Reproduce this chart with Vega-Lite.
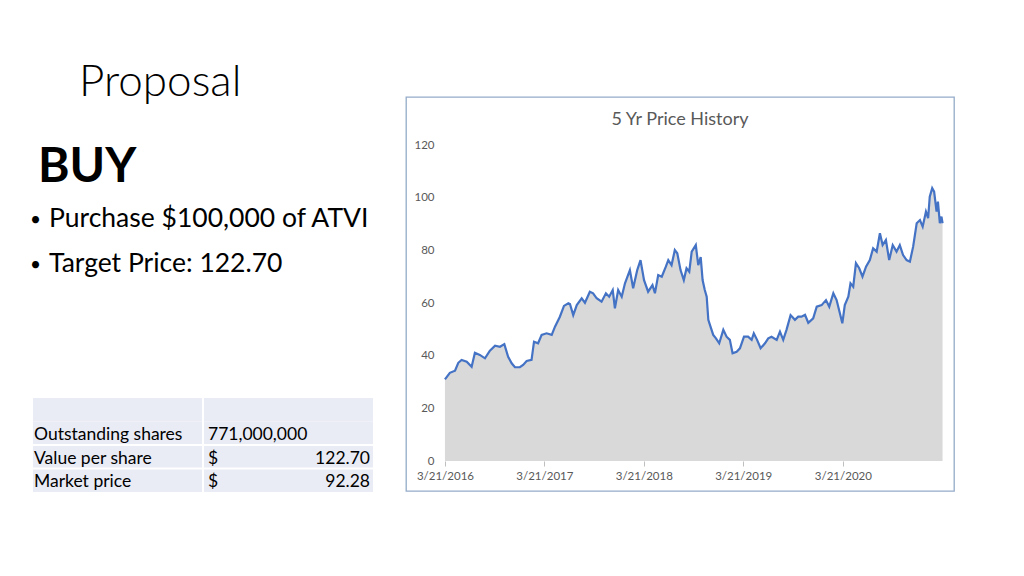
{
  "$schema": "https://vega.github.io/schema/vega-lite/v6.json",
  "background": "white",
  "padding": {"left": 30, "top": 61, "right": 5, "bottom": 5},
  "spacing": 31,
  "title": {"text": "Proposal", "anchor": "start", "frame": "group", "fontSize": 44, "fontWeight": 300, "color": "#000000", "baseline": "alphabetic", "offset": -44, "dx": 46},
  "config": {"font": "Lato", "view": {"stroke": null}},
  "hconcat": [
    {
      "spacing": 85,
      "vconcat": [
        {
          "width": 340,
          "height": 215,
          "data": {"values": [
            {"line": "BUY", "text": "BUY"},
            {"line": "b1", "text": "Purchase $100,000 of ATVI"},
            {"line": "b2", "text": "Target Price: 122.70"}
          ]},
          "encoding": {
            "x": {"datum": "c1", "type": "nominal", "scale": {"type": "band", "domain": ["c1", "c2"], "paddingInner": 0, "paddingOuter": 0}, "bandPosition": 0, "axis": null},
            "y": {"field": "line", "type": "nominal", "scale": {"type": "point", "domain": ["top", "BUY", "b1", "b2"], "padding": 0.889}, "axis": null}
          },
          "layer": [
            {"transform": [{"filter": "datum.line === 'BUY'"}], "mark": {"type": "text", "align": "left", "baseline": "alphabetic", "fontSize": 48, "fontWeight": "bold", "dx": 5, "color": "#000000"}, "encoding": {"text": {"field": "text"}}},
            {"transform": [{"filter": "datum.line !== 'BUY'"}], "mark": {"type": "text", "align": "left", "baseline": "alphabetic", "fontSize": 26.5, "dx": 16, "color": "#000000"}, "encoding": {"text": {"field": "text"}}},
            {"transform": [{"filter": "datum.line !== 'BUY'"}], "mark": {"type": "text", "align": "left", "baseline": "alphabetic", "fontSize": 19, "dx": -3, "dy": -1, "text": "•", "color": "#000000"}}
          ]
        },
        {
          "width": 340,
          "height": 94,
          "layer": [
            {
              "data": {"values": [
                {"row": "r0", "col": "c1"}, {"row": "r0", "col": "c2"},
                {"row": "r1", "col": "c1"}, {"row": "r1", "col": "c2"},
                {"row": "r2", "col": "c1"}, {"row": "r2", "col": "c2"},
                {"row": "r3", "col": "c1"}, {"row": "r3", "col": "c2"}
              ]},
              "mark": {"type": "rect", "color": "#e9ebf5"},
              "encoding": {
                "x": {"field": "col", "type": "nominal", "scale": {"type": "band", "domain": ["c1", "c2"], "paddingInner": 0, "paddingOuter": 0}, "axis": null},
                "y": {"field": "row", "type": "nominal", "scale": {"type": "band", "domain": ["r0", "r1", "r2", "r3"], "paddingInner": 0, "paddingOuter": 0}, "axis": null}
              }
            },
            {
              "data": {"values": [{"col": "c2"}]},
              "mark": {"type": "rule", "color": "#ffffff", "strokeWidth": 2},
              "encoding": {"x": {"field": "col", "type": "nominal", "bandPosition": 0}}
            },
            {
              "data": {"values": [{"row": "r2"}, {"row": "r3"}]},
              "mark": {"type": "rule", "color": "#ffffff", "strokeWidth": 2},
              "encoding": {"y": {"field": "row", "type": "nominal", "bandPosition": 0}}
            },
            {
              "data": {"values": [
                {"row": "r1", "label": "Outstanding shares", "left": "771,000,000", "right": ""},
                {"row": "r2", "label": "Value per share", "left": "$", "right": "122.70"},
                {"row": "r3", "label": "Market price", "left": "$", "right": "92.28"}
              ]},
              "layer": [
                {"mark": {"type": "text", "align": "left", "baseline": "alphabetic", "fontSize": 17.5, "dx": 1, "color": "#000000"},
                 "encoding": {"x": {"datum": "c1", "type": "nominal", "bandPosition": 0}, "y": {"field": "row", "type": "nominal", "bandPosition": 0.8}, "text": {"field": "label"}}},
                {"mark": {"type": "text", "align": "left", "baseline": "alphabetic", "fontSize": 17.5, "dx": 5, "color": "#000000"},
                 "encoding": {"x": {"datum": "c2", "type": "nominal", "bandPosition": 0}, "y": {"field": "row", "type": "nominal", "bandPosition": 0.8}, "text": {"field": "left"}}},
                {"mark": {"type": "text", "align": "right", "baseline": "alphabetic", "fontSize": 17.5, "dx": -3, "color": "#000000"},
                 "encoding": {"x": {"datum": "c2", "type": "nominal", "bandPosition": 1}, "y": {"field": "row", "type": "nominal", "bandPosition": 0.8}, "text": {"field": "right"}}}
              ]
            }
          ]
        }
      ]
    },
    {
      "width": 548,
      "height": 394,
      "view": {"stroke": "#94abc9", "strokeWidth": 1.3},
      "title": {"text": "5 Yr Price History", "fontSize": 18, "fontWeight": "normal", "color": "#595959", "anchor": "middle", "frame": "group", "offset": -46, "baseline": "alphabetic"},
      "data": {"values": [
        {"date": "2016-03-21", "price": 31.0}, {"date": "2016-04-08", "price": 33.5}, {"date": "2016-04-27", "price": 34.3},
        {"date": "2016-05-09", "price": 37.3}, {"date": "2016-05-21", "price": 38.4}, {"date": "2016-06-09", "price": 37.7},
        {"date": "2016-06-27", "price": 35.8}, {"date": "2016-07-09", "price": 41.1}, {"date": "2016-07-27", "price": 40.3},
        {"date": "2016-08-15", "price": 39.0}, {"date": "2016-09-02", "price": 41.9}, {"date": "2016-09-21", "price": 43.8},
        {"date": "2016-10-09", "price": 43.4}, {"date": "2016-10-25", "price": 44.4}, {"date": "2016-11-08", "price": 39.6},
        {"date": "2016-11-21", "price": 37.1}, {"date": "2016-12-03", "price": 35.6}, {"date": "2016-12-21", "price": 35.6},
        {"date": "2017-01-02", "price": 36.5}, {"date": "2017-01-15", "price": 38.0}, {"date": "2017-02-02", "price": 38.4},
        {"date": "2017-02-11", "price": 45.3}, {"date": "2017-02-26", "price": 44.7}, {"date": "2017-03-11", "price": 47.9},
        {"date": "2017-03-29", "price": 48.5}, {"date": "2017-04-17", "price": 47.9}, {"date": "2017-04-29", "price": 51.0},
        {"date": "2017-05-17", "price": 54.8}, {"date": "2017-06-01", "price": 58.9}, {"date": "2017-06-17", "price": 59.9},
        {"date": "2017-06-23", "price": 59.6}, {"date": "2017-07-05", "price": 55.4}, {"date": "2017-07-18", "price": 59.2},
        {"date": "2017-08-05", "price": 61.8}, {"date": "2017-08-17", "price": 60.1}, {"date": "2017-09-04", "price": 64.3},
        {"date": "2017-09-16", "price": 63.7}, {"date": "2017-09-29", "price": 61.8}, {"date": "2017-10-17", "price": 60.5},
        {"date": "2017-11-02", "price": 63.7}, {"date": "2017-11-14", "price": 62.4}, {"date": "2017-11-27", "price": 64.9},
        {"date": "2017-12-05", "price": 58.0}, {"date": "2017-12-17", "price": 64.9}, {"date": "2017-12-30", "price": 62.4},
        {"date": "2018-01-11", "price": 67.5}, {"date": "2018-01-29", "price": 72.5}, {"date": "2018-02-10", "price": 65.6},
        {"date": "2018-02-25", "price": 72.5}, {"date": "2018-03-09", "price": 76.3}, {"date": "2018-03-22", "price": 68.7},
        {"date": "2018-04-06", "price": 64.3}, {"date": "2018-04-22", "price": 66.8}, {"date": "2018-05-01", "price": 63.7},
        {"date": "2018-05-13", "price": 70.6}, {"date": "2018-05-26", "price": 70.0}, {"date": "2018-06-10", "price": 73.8},
        {"date": "2018-06-19", "price": 76.3}, {"date": "2018-07-01", "price": 74.4}, {"date": "2018-07-13", "price": 80.1},
        {"date": "2018-07-22", "price": 78.9}, {"date": "2018-08-03", "price": 72.5}, {"date": "2018-08-15", "price": 68.7},
        {"date": "2018-08-25", "price": 73.2}, {"date": "2018-09-04", "price": 71.9}, {"date": "2018-09-13", "price": 79.5},
        {"date": "2018-09-28", "price": 82.0}, {"date": "2018-10-07", "price": 74.4}, {"date": "2018-10-16", "price": 77.4},
        {"date": "2018-10-23", "price": 68.7}, {"date": "2018-10-31", "price": 64.9}, {"date": "2018-11-07", "price": 62.4},
        {"date": "2018-11-13", "price": 53.6}, {"date": "2018-11-21", "price": 51.0}, {"date": "2018-12-01", "price": 47.9},
        {"date": "2018-12-11", "price": 46.6}, {"date": "2018-12-23", "price": 44.7}, {"date": "2019-01-07", "price": 49.8},
        {"date": "2019-01-19", "price": 47.2}, {"date": "2019-01-31", "price": 46.0}, {"date": "2019-02-10", "price": 40.9},
        {"date": "2019-02-25", "price": 41.5}, {"date": "2019-03-09", "price": 42.8}, {"date": "2019-03-24", "price": 47.2},
        {"date": "2019-04-08", "price": 47.2}, {"date": "2019-04-21", "price": 46.0}, {"date": "2019-04-29", "price": 48.5},
        {"date": "2019-05-11", "price": 46.0}, {"date": "2019-05-24", "price": 42.8}, {"date": "2019-06-09", "price": 44.7},
        {"date": "2019-06-21", "price": 46.6}, {"date": "2019-07-03", "price": 47.2}, {"date": "2019-07-22", "price": 46.0},
        {"date": "2019-08-03", "price": 49.1}, {"date": "2019-08-15", "price": 46.0}, {"date": "2019-08-27", "price": 49.8},
        {"date": "2019-09-11", "price": 55.4}, {"date": "2019-09-27", "price": 53.6}, {"date": "2019-10-09", "price": 54.8},
        {"date": "2019-10-21", "price": 54.8}, {"date": "2019-11-03", "price": 55.5}, {"date": "2019-11-15", "price": 52.5},
        {"date": "2019-12-03", "price": 54.2}, {"date": "2019-12-16", "price": 58.6}, {"date": "2020-01-03", "price": 59.2},
        {"date": "2020-01-19", "price": 61.1}, {"date": "2020-01-31", "price": 58.6}, {"date": "2020-02-15", "price": 63.7},
        {"date": "2020-02-27", "price": 61.1}, {"date": "2020-03-10", "price": 56.1}, {"date": "2020-03-19", "price": 52.3},
        {"date": "2020-03-28", "price": 59.2}, {"date": "2020-04-10", "price": 62.4}, {"date": "2020-04-18", "price": 67.5},
        {"date": "2020-04-28", "price": 66.2}, {"date": "2020-05-08", "price": 75.1}, {"date": "2020-05-20", "price": 73.2},
        {"date": "2020-06-01", "price": 70.0}, {"date": "2020-06-14", "price": 73.8}, {"date": "2020-06-28", "price": 76.3},
        {"date": "2020-07-10", "price": 80.8}, {"date": "2020-07-23", "price": 79.5}, {"date": "2020-08-04", "price": 86.5},
        {"date": "2020-08-14", "price": 82.0}, {"date": "2020-08-26", "price": 83.9}, {"date": "2020-09-07", "price": 76.3},
        {"date": "2020-09-20", "price": 82.0}, {"date": "2020-10-04", "price": 79.5}, {"date": "2020-10-16", "price": 82.0},
        {"date": "2020-10-28", "price": 78.2}, {"date": "2020-11-10", "price": 76.3}, {"date": "2020-11-22", "price": 75.7},
        {"date": "2020-12-04", "price": 81.4}, {"date": "2020-12-17", "price": 90.3}, {"date": "2020-12-29", "price": 91.5},
        {"date": "2021-01-08", "price": 89.0}, {"date": "2021-01-20", "price": 94.7}, {"date": "2021-01-28", "price": 92.2},
        {"date": "2021-02-03", "price": 100.4}, {"date": "2021-02-12", "price": 103.6}, {"date": "2021-02-19", "price": 102.3},
        {"date": "2021-02-28", "price": 94.7}, {"date": "2021-03-05", "price": 98.5}, {"date": "2021-03-12", "price": 90.3},
        {"date": "2021-03-18", "price": 92.8}, {"date": "2021-03-22", "price": 90.3}
      ]},
      "encoding": {
        "x": {
          "field": "date", "type": "temporal",
          "scale": {"type": "utc", "domain": [{"year": 2015, "month": 10, "date": 30, "utc": true}, {"year": 2021, "month": 5, "date": 3, "utc": true}]},
          "axis": {
            "values": [
              {"year": 2016, "month": 3, "date": 21, "utc": true},
              {"year": 2017, "month": 3, "date": 21, "utc": true},
              {"year": 2018, "month": 3, "date": 21, "utc": true},
              {"year": 2019, "month": 3, "date": 21, "utc": true},
              {"year": 2020, "month": 3, "date": 21, "utc": true}
            ],
            "labelExpr": "utcFormat(datum.value, '%-m/%-d/%Y')",
            "offset": -30, "domain": false, "grid": false, "ticks": true, "tickSize": 5, "tickColor": "#bfbfbf",
            "labelPadding": 4, "labelColor": "#595959", "labelFontSize": 11.5, "labelFont": "Lato", "title": null, "labelFlush": false
          }
        }
      },
      "layer": [
        {
          "mark": {"type": "area", "color": "#d9d9d9"},
          "encoding": {
            "y": {
              "field": "price", "type": "quantitative",
              "scale": {"domain": [-11.39, 138.23], "nice": false, "zero": false},
              "axis": {"values": [0, 20, 40, 60, 80, 100, 120], "offset": -39, "domain": false, "ticks": false, "tickSize": 0, "grid": false, "labelPadding": 11, "labelColor": "#595959", "labelFontSize": 11.5, "labelFont": "Lato", "title": null, "labelFlush": false}
            },
            "y2": {"datum": 0}
          }
        },
        {
          "mark": {"type": "line", "color": "#4472c4", "strokeWidth": 2.2},
          "encoding": {"y": {"field": "price", "type": "quantitative"}}
        }
      ]
    }
  ]
}
